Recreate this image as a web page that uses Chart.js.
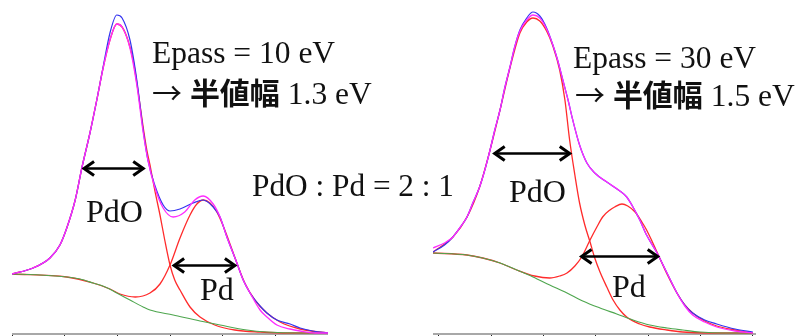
<!DOCTYPE html>
<html>
<head>
<meta charset="utf-8">
<script src="https://cdn.jsdelivr.net/npm/chart.js@4.4.1/dist/chart.umd.min.js"></script>
<style>
  html, body { margin: 0; padding: 0; background: #fff; }
  #stage { position: relative; width: 803px; height: 336px; overflow: hidden; }
  .box { position: absolute; top: 0; height: 336px; }
  .lbl {
    position: absolute; white-space: nowrap; line-height: 1; color: #111;
    font-family: "Liberation Serif", "Times New Roman", serif;
  }
  .jp { font-family: "Noto Sans CJK JP", sans-serif; font-weight: 700; font-size: 30px; }
  .ar { font-family: "Noto Sans CJK JP", sans-serif; font-weight: 400; font-size: 30px; }
</style>
</head>
<body>
<div id="stage">
  <div class="box" style="left:12px;width:316px"><canvas id="leftChart"></canvas></div>
  <div class="box" style="left:433px;width:323px"><canvas id="rightChart"></canvas></div>
</div>
<script>
// ===== Pd 3d5/2, binding energy (eV) vs intensity (a.u.) =====
const tickValues = [333, 334, 335, 336, 337, 338, 339];

// ----- Epass = 10 eV -----
const measured10 = [[339.00,60],[338.60,66],[338.28,76],[338.09,89],[337.96,106],[337.80,134],[337.67,167],[337.52,201],[337.39,234],[337.27,267],[337.14,301],[337.01,319],[336.91,316],[336.76,294],[336.63,254],[336.51,204],[336.42,174],[336.29,149],[336.13,129],[336.00,123],[335.81,125],[335.56,131],[335.37,134],[335.18,127],[335.05,117],[334.92,97],[334.73,71],[334.61,54],[334.48,41],[334.29,28],[334.16,21],[333.97,14],[333.72,10],[333.53,6],[333.29,3],[333.00,1]];
const fit10 = [[339.00,60],[338.60,66],[338.28,76],[338.09,89],[337.96,106],[337.80,134],[337.67,167],[337.52,201],[337.39,234],[337.27,266],[337.14,294],[337.01,310],[336.91,307],[336.76,286],[336.63,249],[336.51,202],[336.42,174],[336.29,147],[336.13,126],[335.94,117],[335.72,122],[335.53,134],[335.37,138],[335.18,130],[335.05,117],[334.92,97],[334.73,71],[334.61,54],[334.48,41],[334.29,24],[334.16,17],[333.97,9],[333.72,5],[333.53,3],[333.25,1],[333.00,1]];
const pdo10 = [[339.00,60],[338.60,66],[338.28,76],[338.09,89],[337.96,106],[337.80,134],[337.67,167],[337.52,201],[337.39,234],[337.27,266],[337.14,294],[337.01,310],[336.91,307],[336.80,294],[336.70,274],[336.61,244],[336.51,207],[336.44,184],[336.38,169],[336.29,144],[336.19,119],[336.10,94],[336.00,69],[335.91,54],[335.81,44],[335.62,27],[335.43,17],[335.15,9],[334.77,4],[334.29,2],[333.72,1],[333.00,1]];
const pd10 = [[339.00,60],[337.96,57],[337.46,51],[337.14,45],[336.95,40],[336.66,37],[336.38,41],[336.19,50],[336.00,69],[335.81,96],[335.62,119],[335.49,130],[335.37,134],[335.24,131],[335.11,122],[334.96,104],[334.73,71],[334.58,51],[334.39,34],[334.16,21],[333.91,12],[333.53,5],[333.00,1]];
const bg10 = [[339.00,60],[338.47,59],[337.96,57],[337.71,55],[337.46,51],[337.23,47],[337.01,41],[336.76,34],[336.51,27],[336.38,24],[335.94,19],[335.43,13],[335.05,9],[334.54,4],[334.16,2],[333.53,1],[333.00,1]];
const fwhm10 = [[337.67, 336.47, 166], [335.96, 334.73, 69]];

// ----- Epass = 30 eV -----
const measured30 = [[339.11,82],[338.89,89],[338.73,97],[338.60,106],[338.46,117],[338.35,131],[338.22,147],[338.12,164],[338.03,182],[337.93,204],[337.83,224],[337.74,246],[337.64,267],[337.55,287],[337.45,304],[337.32,316],[337.20,322],[337.07,318],[336.94,306],[336.82,289],[336.73,274],[336.63,254],[336.53,234],[336.44,214],[336.31,189],[336.17,171],[336.02,161],[335.79,152],[335.54,143],[335.41,137],[335.29,127],[335.16,114],[335.03,99],[334.83,81],[334.64,61],[334.45,41],[334.30,29],[334.15,21],[333.92,14],[333.69,10],[333.34,5],[333.00,2]];
const fit30 = [[339.11,86],[338.89,91],[338.73,97],[338.60,106],[338.46,117],[338.35,131],[338.22,147],[338.12,164],[338.03,182],[337.93,204],[337.83,224],[337.74,246],[337.64,267],[337.55,287],[337.45,303],[337.32,314],[337.20,319],[337.07,316],[336.94,305],[336.82,289],[336.73,274],[336.63,254],[336.53,234],[336.44,214],[336.31,189],[336.17,171],[336.02,161],[335.79,152],[335.54,143],[335.41,137],[335.29,127],[335.16,114],[335.03,99],[334.83,81],[334.64,61],[334.45,41],[334.30,28],[334.15,19],[333.92,12],[333.69,7],[333.34,3],[333.00,1]];
const pdo30 = [[339.11,82],[338.73,97],[338.46,117],[338.22,147],[338.03,182],[337.83,224],[337.64,266],[337.45,301],[337.32,312],[337.20,316],[337.07,313],[336.94,303],[336.82,288],[336.69,264],[336.59,234],[336.50,194],[336.40,159],[336.31,131],[336.21,109],[336.11,92],[336.02,76],[335.92,62],[335.79,47],[335.67,34],[335.54,24],[335.41,17],[335.16,10],[334.97,7],[334.64,4],[334.34,2],[333.82,1],[333.00,1]];
const pd30 = [[339.11,81],[338.46,79],[338.16,76],[337.83,71],[337.51,64],[337.17,58],[336.88,56],[336.69,58],[336.55,61],[336.40,68],[336.27,77],[336.11,94],[335.98,107],[335.87,117],[335.73,124],[335.64,127],[335.50,130],[335.39,128],[335.25,122],[335.12,112],[335.03,104],[334.91,91],[334.78,76],[334.64,60],[334.45,41],[334.30,29],[334.15,21],[333.92,13],[333.69,8],[333.34,4],[333.00,1]];
const bg30 = [[339.11,81],[338.46,79],[338.16,76],[337.83,71],[337.51,64],[337.20,57],[336.88,49],[336.55,41],[336.25,33],[335.92,26],[335.60,20],[335.29,14],[334.97,9],[334.64,6],[334.34,4],[334.01,2],[333.53,1],[333.00,1]];
const fwhm30 = [[337.97, 336.46, 181], [336.31, 334.78, 78]];

// ================= Text =================
const labels = [
  { html: 'Epass = 10 eV', x: 152, base: 63, size: 31.5 },
  { html: '<span class="ar">→</span> <span class="jp">半値幅</span> 1.3 eV', x: 152, base: 104, size: 31.5 },
  { html: 'PdO', x: 86, base: 222, size: 32 },
  { html: 'Pd', x: 200, base: 300, size: 32 },
  { html: 'PdO : Pd = 2 : 1', x: 252, base: 196, size: 31.3 },
  { html: 'Epass = 30 eV', x: 573, base: 68, size: 31.5 },
  { html: '<span class="ar">→</span> <span class="jp">半値幅</span> 1.5 eV', x: 575, base: 106, size: 31.5 },
  { html: 'PdO', x: 509, base: 202, size: 32 },
  { html: 'Pd', x: 612, base: 297, size: 32 }
];

// ================= Arrows (FWHM) =================
const arrowPlugin = {
  id: 'fwhmArrows',
  afterDatasetsDraw(chart, args, opts) {
    const { ctx, scales: { x, y } } = chart;
    ctx.save();
    ctx.strokeStyle = '#000';
    ctx.lineJoin = 'miter';
    (opts.list || []).forEach(a => {
      const p1 = x.getPixelForValue(a[0]);
      const p2 = x.getPixelForValue(a[1]);
      const l = Math.min(p1, p2), r = Math.max(p1, p2);
      const yy = Math.round(y.getPixelForValue(a[2])) + 0.5;
      ctx.lineWidth = 2.4;
      ctx.beginPath();
      ctx.moveTo(l + 2, yy); ctx.lineTo(r - 2, yy);
      ctx.stroke();
      ctx.lineWidth = 3;
      ctx.beginPath();
      ctx.moveTo(l + 12, yy - 7); ctx.lineTo(l + 2, yy); ctx.lineTo(l + 12, yy + 7);
      ctx.moveTo(r - 12, yy - 7); ctx.lineTo(r - 2, yy); ctx.lineTo(r - 12, yy + 7);
      ctx.stroke();
    });
    ctx.restore();
  }
};

function line(points, color, width) {
  return {
    data: points.map(p => ({ x: p[0], y: p[1] })),
    borderColor: color,
    borderWidth: width,
    pointRadius: 0,
    fill: false,
    cubicInterpolationMode: 'monotone'
  };
}

function spectrum(id, xMin, xMax, series, arrows) {
  return new Chart(document.getElementById(id), {
    type: 'line',
    data: {
      // first dataset is drawn on top
      datasets: [
        line(series.fit, '#ff2cff', 1.3),
        line(series.measured, '#3434f0', 1.2),
        line(series.bg, '#4ea64e', 1.1),
        line(series.pdo, '#ff2b2b', 1.3),
        line(series.pd, '#ff2b2b', 1.3)
      ]
    },
    options: {
      responsive: true,
      maintainAspectRatio: false,
      animation: false,
      events: [],
      layout: { padding: 0 },
      plugins: {
        legend: { display: false },
        tooltip: { enabled: false },
        fwhmArrows: { list: arrows }
      },
      scales: {
        x: {
          type: 'linear',
          reverse: true,
          min: xMin,
          max: xMax,
          afterBuildTicks: s => { s.ticks = tickValues.map(v => ({ value: v })); },
          ticks: { display: false },
          grid: { drawOnChartArea: false, drawTicks: true, tickLength: 2, color: '#222', lineWidth: 1 },
          border: { color: '#a8a8a8', width: 2 }
        },
        y: { display: false, min: 0, max: 334 }
      }
    },
    plugins: [arrowPlugin]
  });
}

spectrum('leftChart', 333, 339, { measured: measured10, fit: fit10, pdo: pdo10, pd: pd10, bg: bg10 }, fwhm10);
spectrum('rightChart', 332.94, 339.11, { measured: measured30, fit: fit30, pdo: pdo30, pd: pd30, bg: bg30 }, fwhm30);

// place each label by its baseline
const stage = document.getElementById('stage');
labels.forEach(a => {
  const el = document.createElement('div');
  el.className = 'lbl';
  el.style.fontSize = a.size + 'px';
  el.innerHTML = a.html + '<span style="display:inline-block;width:0;height:0"></span>';
  stage.appendChild(el);
  el.style.left = a.x + 'px';
  el.style.top = (a.base - el.lastChild.offsetTop) + 'px';
});
</script>
</body>
</html>
